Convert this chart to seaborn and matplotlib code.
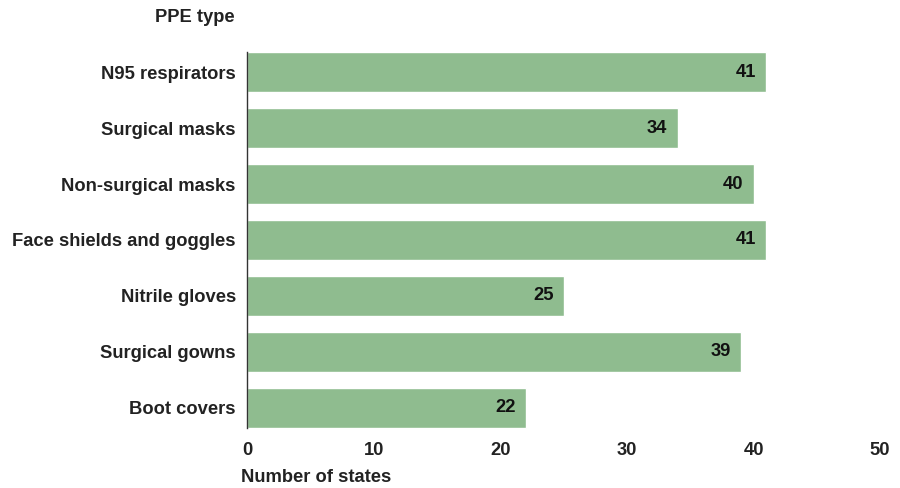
import matplotlib
matplotlib.use("Agg")
import matplotlib.pyplot as plt
import seaborn as sns
import pandas as pd

categories = ["N95 respirators", "Surgical masks", "Non-surgical masks",
              "Face shields and goggles", "Nitrile gloves", "Surgical gowns", "Boot covers"]
values = [41, 34, 40, 41, 25, 39, 22]
x_ticks = [0, 10, 20, 30, 40, 50]

sns.set_theme(style="white")
plt.rcParams['font.family'] = ['Liberation Sans', 'DejaVu Sans']
plt.rcParams['font.weight'] = 'bold'

df = pd.DataFrame({"PPE type": categories, "Number of states": values})

FS = 13.2
fig = plt.figure(figsize=(9, 4.88), dpi=100)
ax = fig.add_axes([0.2744, 0.1066, 0.7036, 0.8032])
sns.barplot(data=df, y="PPE type", x="Number of states", orient="h",
            color="#8fbc8f", saturation=1, width=0.72, ax=ax)

ax.set_xlim(0, 50)
ax.set_ylim(6.5, -0.5)
ax.set_xticks(x_ticks)
ax.set_xticklabels([str(t) for t in x_ticks], fontsize=FS, fontweight='bold', color='#222222')
ax.set_yticklabels(categories, fontsize=FS, fontweight='bold', color='#222222')
ax.tick_params(axis='y', length=0, pad=8)
ax.tick_params(axis='x', length=0, pad=4)
for s in ["top", "right", "bottom"]:
    ax.spines[s].set_visible(False)
ax.spines["left"].set_color("#333333")
ax.spines["left"].set_linewidth(1.0)
ax.spines["left"].set_bounds(-0.36, 6.36)
ax.set_xlabel("")
ax.set_ylabel("")

for i, v in enumerate(values):
    ax.text(v - 0.8, i, str(v), ha='right', va='center', fontsize=FS,
            fontweight='bold', color='#111111')

fig.text(235/900, 1 - 18/488, "PPE type", ha='right', va='center',
         fontsize=FS, fontweight='bold', color='#222222')
fig.text(241/900, 1 - 477/488, "Number of states", ha='left', va='center',
         fontsize=FS, fontweight='bold', color='#222222')

fig.savefig("out.png", dpi=100)
